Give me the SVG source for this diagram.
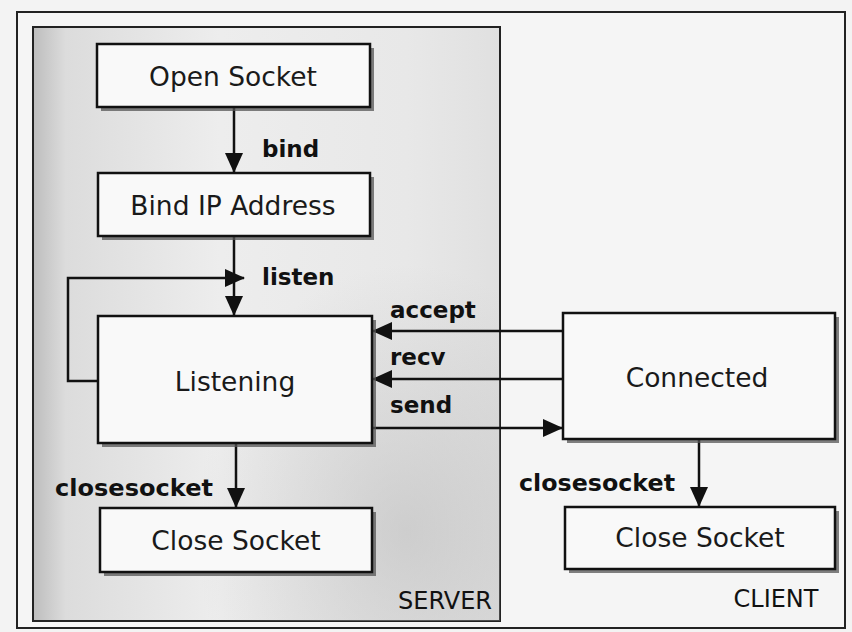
<svg xmlns="http://www.w3.org/2000/svg" width="852" height="632" viewBox="0 0 852 632">
<style>
.box{fill:#f9f9f9;stroke:#111;stroke-width:2.5}
.sh{fill:#555;opacity:0.75}
.t{font-family:"DejaVu Sans",Verdana,sans-serif;font-size:26.5px;fill:#1a1a1a;text-anchor:middle}
.lb{font-family:"DejaVu Sans",Verdana,sans-serif;font-size:23px;font-weight:bold;fill:#111}
.cap{font-family:"DejaVu Sans",Verdana,sans-serif;font-size:24px;fill:#111;text-anchor:middle}
.ln{fill:none;stroke:#111;stroke-width:2.5}
</style>
<defs>
<marker id="a" viewBox="0 0 20 20" refX="19" refY="10" markerWidth="20" markerHeight="20" markerUnits="userSpaceOnUse" orient="auto">
<path d="M0,1 L20,10 L0,19 z" fill="#111"/>
</marker>
<linearGradient id="srv" x1="0" y1="0" x2="1" y2="0">
<stop offset="0" stop-color="#bdbdbd"/>
<stop offset="0.07" stop-color="#dcdcdc"/>
<stop offset="0.4" stop-color="#ededed"/>
<stop offset="0.8" stop-color="#e8e8e8"/>
<stop offset="1" stop-color="#e0e0e0"/>
</linearGradient>
<radialGradient id="srv2" cx="0.8" cy="0.85" r="0.45">
<stop offset="0" stop-color="#b8b8b8" stop-opacity="0.55"/>
<stop offset="1" stop-color="#b8b8b8" stop-opacity="0"/>
</radialGradient>
</defs>
<rect x="0" y="0" width="852" height="632" fill="#f3f3f3"/>
<rect x="17" y="12" width="828" height="616" fill="#f5f5f5" stroke="#222" stroke-width="2"/>
<g id="server">
<rect x="33" y="27" width="467" height="594" fill="url(#srv)" stroke="#222" stroke-width="2"/>
<rect x="33" y="27" width="467" height="594" fill="url(#srv2)"/>
<text class="cap" x="445" y="609">SERVER</text>
</g>
<g id="client">
<text class="cap" x="776" y="607">CLIENT</text>
</g>
<g id="connectors">
<path class="ln" d="M234,108 V172" marker-end="url(#a)"/>
<path class="ln" d="M234,237 V315" marker-end="url(#a)"/>
<path class="ln" d="M98,381 H68 V278 H244" marker-end="url(#a)"/>
<path class="ln" d="M563,331 H373" marker-end="url(#a)"/>
<path class="ln" d="M563,379 H373" marker-end="url(#a)"/>
<path class="ln" d="M373,428 H562" marker-end="url(#a)"/>
<path class="ln" d="M236,444 V507" marker-end="url(#a)"/>
<path class="ln" d="M699,440 V506" marker-end="url(#a)"/>
<text class="lb" x="262" y="157">bind</text>
<text class="lb" x="262" y="285">listen</text>
<text class="lb" x="390" y="318">accept</text>
<text class="lb" x="390" y="365">recv</text>
<text class="lb" x="390" y="413">send</text>
<text class="lb" x="55" y="496" textLength="158" lengthAdjust="spacingAndGlyphs">closesocket</text>
<text class="lb" x="519" y="491" textLength="156" lengthAdjust="spacingAndGlyphs">closesocket</text>
</g>
<g id="open-socket">
<rect class="sh" x="101" y="48" width="273" height="63"/>
<rect class="box" x="97" y="44" width="273" height="63"/>
<text class="t" x="233" y="86">Open Socket</text>
</g>
<g id="bind-ip">
<rect class="sh" x="102" y="177" width="272" height="63"/>
<rect class="box" x="98" y="173" width="272" height="63"/>
<text class="t" x="233" y="215">Bind IP Address</text>
</g>
<g id="listening">
<rect class="sh" x="102" y="320" width="274" height="127"/>
<rect class="box" x="98" y="316" width="274" height="127"/>
<text class="t" x="235" y="391">Listening</text>
</g>
<g id="close-server">
<rect class="sh" x="104" y="512" width="272" height="64"/>
<rect class="box" x="100" y="508" width="272" height="64"/>
<text class="t" x="236" y="550">Close Socket</text>
</g>
<g id="connected">
<rect class="sh" x="567" y="317" width="272" height="126"/>
<rect class="box" x="563" y="313" width="272" height="126"/>
<text class="t" x="697" y="387">Connected</text>
</g>
<g id="close-client">
<rect class="sh" x="569" y="511" width="270" height="62"/>
<rect class="box" x="565" y="507" width="270" height="62"/>
<text class="t" x="700" y="547">Close Socket</text>
</g>
</svg>
